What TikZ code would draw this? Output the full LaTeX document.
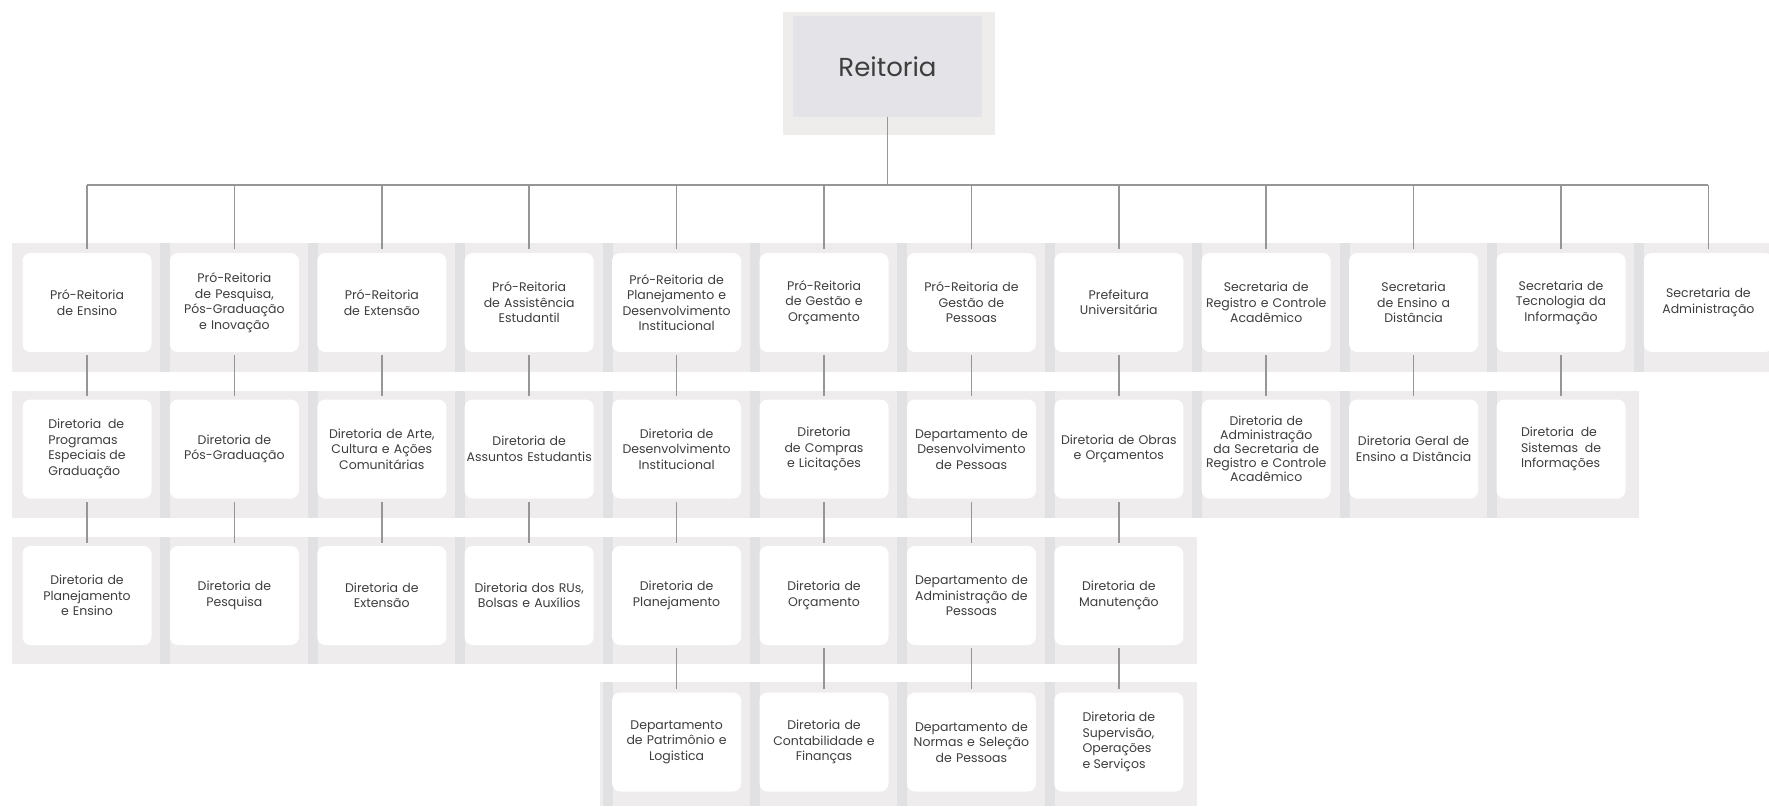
\documentclass[tikz,border=0pt]{standalone}
\usepackage{fontspec}
\setmainfont{Poppins}
\usetikzlibrary{positioning}
\definecolor{bandgray}{RGB}{238,236,237}
\definecolor{stripgray}{RGB}{225,224,226}
\definecolor{linegray}{RGB}{150,150,150}
\definecolor{textgray}{RGB}{62,62,62}
\definecolor{topouter}{RGB}{239,236,236}
\definecolor{topinner}{RGB}{228,228,232}
\tikzset{%
  unit/.style={rectangle,rounded corners=8pt,fill=white,
    minimum width=129pt,minimum height=99pt,text width=126pt,
    inner sep=1pt,align=center,text=textgray,
    font=\fontsize{12.5}{15.5}\selectfont},
  leftunit/.style={unit,text width={},align=left},
  topunit/.style={rectangle,fill=topinner,minimum width=189pt,
    minimum height=101pt,text=textgray,font=\fontsize{26}{30}\selectfont},
  link/.style={draw=linegray,line width=1.5pt,shorten <=3pt,shorten >=3pt},
  bus/.style={draw=linegray,line width=1.5pt},
  band/.style={fill=bandgray},
  strip/.style={fill=stripgray}
}

\begin{document}
\begin{tikzpicture}[x=1pt,y=-1pt,on grid,node distance=146.5pt and 147.4pt]
    \useasboundingbox (0,0) rectangle (1769,806);

    % backgrounds of the four levels
    \fill [band] (12,243) rectangle (1769,372);
    \fill [band] (12,391) rectangle (1639,518);
    \fill [band] (12,537) rectangle (1197,664);
    \fill [band] (600,682) rectangle (1197,806);
    \foreach \i in {1,...,11}
      \fill [strip] ({13+147.4*\i},243) rectangle +(10,129);
    \foreach \i in {1,...,10}
      \fill [strip] ({13+147.4*\i},391) rectangle +(10,127);
    \foreach \i in {1,...,7}
      \fill [strip] ({13+147.4*\i},537) rectangle +(10,127);
    \foreach \i in {4,...,7}
      \fill [strip] ({13+147.4*\i},682) rectangle +(10,124);

    \fill [topouter] (783,12) rectangle (995,135);
    \node [topunit] (reitoria) at (887.5,66.5) {Reitoria};
    \coordinate (bus) at (0,185);

    \node [unit] (ensino) at (87,302.5) {Pró-Reitoria\\de Ensino};
    \node [unit] (pesquisa) [right=of ensino] {Pró-Reitoria\\de Pesquisa,\\Pós-Graduação\\e Inovação};
    \node [unit] (extensao) [right=of pesquisa] {Pró-Reitoria\\de Extensão};
    \node [unit] (assist) [right=of extensao] {Pró-Reitoria\\de Assistência\\Estudantil};
    \node [unit] (planej) [right=of assist] {Pró-Reitoria de\\Planejamento e\\Desenvolvimento\\Institucional};
    \node [unit] (gestao) [right=of planej] {Pró-Reitoria\\de Gestão e\\Orçamento};
    \node [unit] (pessoas) [right=of gestao] {Pró-Reitoria de\\Gestão de\\Pessoas};
    \node [unit] (prefeit) [right=of pessoas] {Prefeitura\\Universitária};
    \node [unit] (registro) [right=of prefeit] {Secretaria de\\Registro e Controle\\Acadêmico};
    \node [unit] (distancia) [right=of registro] {Secretaria\\de Ensino a\\Distância};
    \node [unit] (tecnol) [right=of distancia] {Secretaria de\\Tecnologia da\\Informação};
    \node [unit] (admin) [right=of tecnol] {Secretaria de\\Administração};

    \draw [bus] (reitoria) -- (reitoria |- bus);
    \draw [bus] (ensino |- bus) -- (admin |- bus);
    \foreach \n in {ensino,pesquisa,extensao,assist,planej,gestao,pessoas,
                    prefeit,registro,distancia,tecnol,admin}
      \draw [bus,shorten >=4pt] (\n |- bus) -- (\n);

    \node [leftunit] (dirProg) [below=of ensino] {Diretoria~ de\\Programas\\Especiais de\\Graduação} edge [link] (ensino);
    \node [unit] (dirPos) [below=of pesquisa] {Diretoria de\\Pós-Graduação} edge [link] (pesquisa);
    \node [unit] (dirArte) [below=of extensao] {Diretoria de Arte,\\Cultura e Ações\\Comunitárias} edge [link] (extensao);
    \node [unit] (dirAssuntos) [below=of assist] {Diretoria de\\Assuntos Estudantis} edge [link] (assist);
    \node [unit] (dirDesInst) [below=of planej] {Diretoria de\\Desenvolvimento\\Institucional} edge [link] (planej);
    \node [unit] (dirCompras) [below=of gestao] {Diretoria\\de Compras\\e Licitações} edge [link] (gestao);
    \node [unit] (depDesPes) [below=of pessoas] {Departamento de\\Desenvolvimento\\de Pessoas} edge [link] (pessoas);
    \node [unit] (dirObras) [below=of prefeit] {Diretoria de Obras\\e Orçamentos} edge [link] (prefeit);
    \node [unit,font=\fontsize{12.5}{14}\selectfont] (dirAdmReg) [below=of registro] {Diretoria de\\Administração\\da Secretaria de\\Registro e Controle\\Acadêmico} edge [link] (registro);
    \node [unit] (dirGeral) [below=of distancia] {Diretoria Geral de\\Ensino a Distância} edge [link] (distancia);
    \node [leftunit] (dirSist) [below=of tecnol] {Diretoria~ de\\Sistemas~ de\\Informações} edge [link] (tecnol);

    \node [unit] (dirPlanEns) [below=of dirProg] {Diretoria de\\Planejamento\\e Ensino} edge [link] (dirProg);
    \node [unit] (dirPesq) [below=of dirPos] {Diretoria de\\Pesquisa} edge [link] (dirPos);
    \node [unit] (dirExt) [below=of dirArte] {Diretoria de\\Extensão} edge [link] (dirArte);
    \node [unit] (dirRUs) [below=of dirAssuntos] {Diretoria dos RUs,\\Bolsas e Auxílios} edge [link] (dirAssuntos);
    \node [unit] (dirPlan) [below=of dirDesInst] {Diretoria de\\Planejamento} edge [link] (dirDesInst);
    \node [unit] (dirOrc) [below=of dirCompras] {Diretoria de\\Orçamento} edge [link] (dirCompras);
    \node [unit] (depAdmPes) [below=of depDesPes] {Departamento de\\Administração de\\Pessoas} edge [link] (depDesPes);
    \node [unit] (dirManut) [below=of dirObras] {Diretoria de\\Manutenção} edge [link] (dirObras);

    \node [unit] (depPatr) [below=of dirPlan] {Departamento\\de Patrimônio e\\Logistica} edge [link] (dirPlan);
    \node [unit] (dirContab) [below=of dirOrc] {Diretoria de\\Contabilidade e\\Finanças} edge [link] (dirOrc);
    \node [unit] (depNormas) [below=of depAdmPes] {Departamento de\\Normas e Seleção\\de Pessoas} edge [link] (depAdmPes);
    \node [leftunit] (dirSuperv) [below=of dirManut] {Diretoria de\\Supervisão,\\Operações\\e Serviços} edge [link] (dirManut);
\end{tikzpicture}
\end{document}
